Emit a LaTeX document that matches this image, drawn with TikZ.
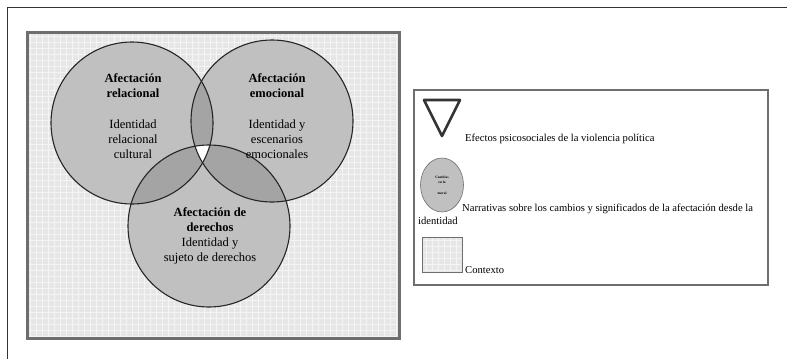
\documentclass[tikz,border=0pt]{standalone}
\usepackage{fontspec}
\setmainfont{Liberation Serif}
\usetikzlibrary{shapes.geometric}
\definecolor{bgfill}{HTML}{E6E6E6}
\definecolor{cfill}{HTML}{C0C0C0}
\definecolor{ifill}{HTML}{A4A4A4}
\definecolor{frame}{HTML}{6E6E6E}
\tikzset{
  circtext/.style={align=center, font=\rmfamily\fontsize{12.5}{15}\selectfont, inner sep=0pt},
  legtext/.style={anchor=base west, font=\rmfamily\fontsize{10.6}{12}\selectfont, inner sep=0pt},
  outline/.style={draw=black!85, line width=1.1pt},
}
\begin{document}
\begin{tikzpicture}[x=1pt,y=-1pt]
\useasboundingbox (0,0) rectangle (787,359);
% outer frame (top and left)
\draw[black!80, line width=1pt] (7,359) -- (7,7) -- (787,7);
% context rectangle
\coordinate (ctxA) at (27,32);
\coordinate (ctxB) at (399,338);
\fill[bgfill] (ctxA) rectangle (ctxB);
\draw[white!55!bgfill, line width=0.4pt, step=6pt] (29,34) grid (397,336);
\draw[frame, line width=3pt] (ctxA) rectangle (ctxB);
% circle centres
\coordinate (cL) at (132,123);
\coordinate (cR) at (272,121);
\coordinate (cB) at (209,226);
\def\rad{81}
\fill[cfill] (cL) circle (\rad);
\fill[cfill] (cR) circle (\rad);
\fill[cfill] (cB) circle (\rad);
\begin{scope}
  \clip (cL) circle (\rad);
  \fill[ifill] (cR) circle (\rad);
  \fill[ifill] (cB) circle (\rad);
\end{scope}
\begin{scope}
  \clip (cR) circle (\rad);
  \fill[ifill] (cB) circle (\rad);
\end{scope}
\begin{scope}
  \clip (cL) circle (\rad);
  \clip (cR) circle (\rad);
  \fill[white] (cB) circle (\rad);
\end{scope}
\draw[outline] (cL) circle (\rad);
\draw[outline] (cR) circle (\rad);
\draw[outline] (cB) circle (\rad);
% circle texts
\node[circtext] (tL1) at (133,86) {\textbf{Afectación}\\\textbf{relacional}};
\node[circtext] (tL2) at (133,139) {Identidad\\relacional\\cultural};
\node[circtext] (tR1) at (277,86) {\textbf{Afectación}\\\textbf{emocional}};
\node[circtext] (tR2) at (277,139) {Identidad y\\escenarios\\emocionales};
\node[circtext] (tB) at (210,236) {\textbf{Afectación de}\\\textbf{derechos}\\Identidad y\\sujeto de derechos};
% legend box
\node[draw=frame, line width=1.6pt, minimum width=354pt, minimum height=195pt, inner sep=0pt] (leg) at (591,187.5) {};
% triangle symbol
\coordinate (t1) at (424,100);
\coordinate (t2) at (460,100);
\coordinate (t3) at (442,136);
\draw[black!80, line width=2.6pt, line join=round, fill=white] (t1) -- (t2) -- (t3) -- cycle;
\node[legtext] (l1) at (465,141) {Efectos psicosociales de la violencia política};
% ellipse symbol
\node[ellipse, draw=frame, line width=0.6pt, fill=cfill, minimum width=43pt, minimum height=54pt, inner sep=0pt, align=center, font=\rmfamily\fontsize{3.5}{5}\selectfont] (ell) at (442,185) {\textbf{Cambios}\\\textbf{en la}\\[6pt]\textbf{moral}};
\node[legtext] (l2) at (462,211) {Narrativas sobre los cambios y significados de la afectación desde la};
\node[legtext] (l2b) at (418,224) {identidad};
% context symbol
\coordinate (sqA) at (422,237);
\coordinate (sqB) at (462,272);
\fill[bgfill] (sqA) rectangle (sqB);
\draw[white!55!bgfill, line width=0.3pt, step=6pt] (423,238) grid (461,271);
\draw[frame, line width=0.8pt] (sqA) rectangle (sqB);
\node[legtext] (l3) at (465,273) {Contexto};
\end{tikzpicture}
\end{document}
